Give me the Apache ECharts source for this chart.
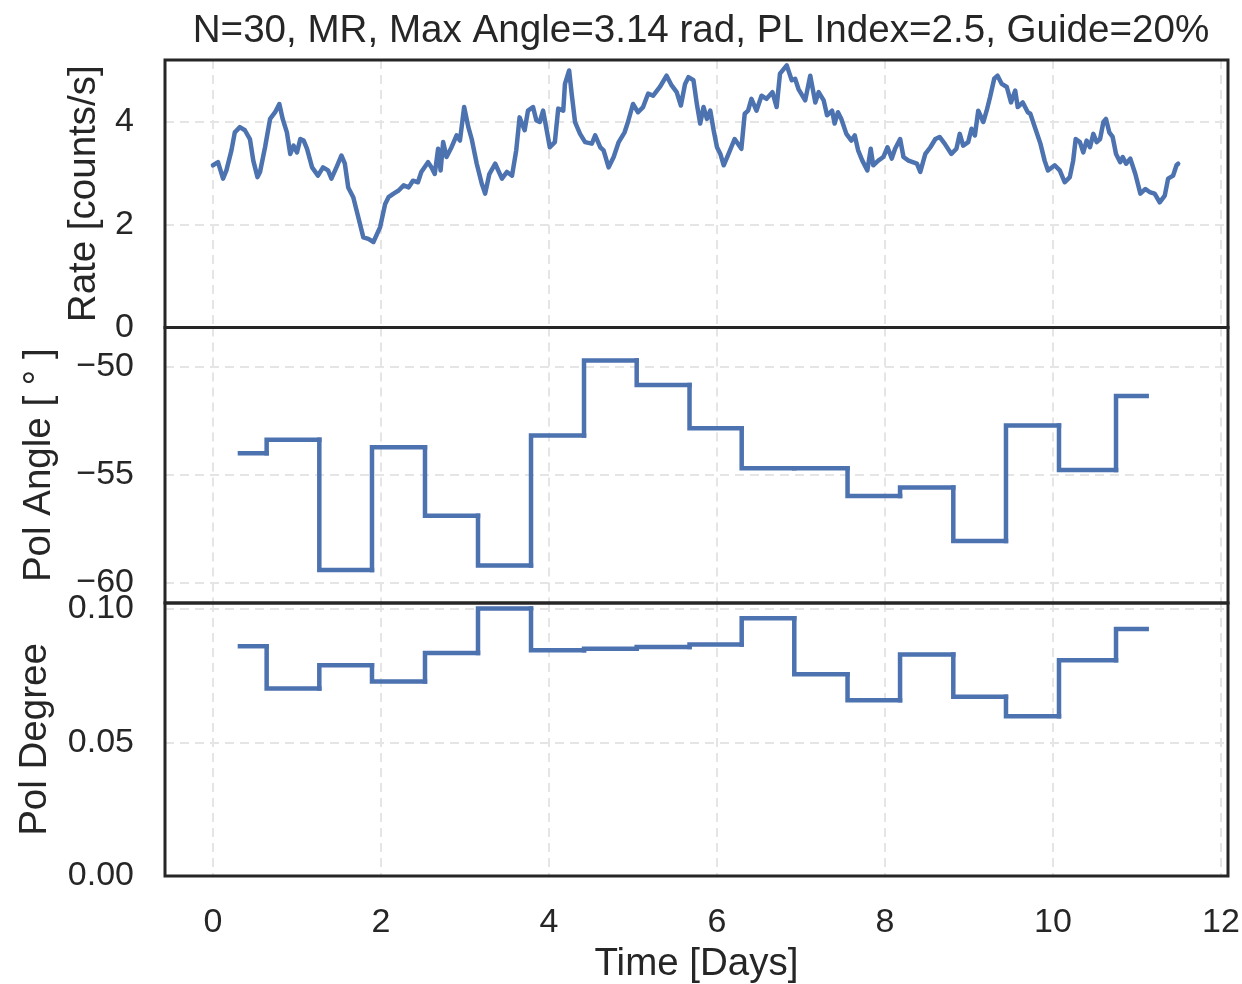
<!DOCTYPE html>
<html>
<head>
<meta charset="utf-8">
<title>Rate / Pol Angle / Pol Degree</title>
<script src="https://cdn.jsdelivr.net/npm/echarts@6/dist/echarts.min.js"></script>
<style>
  html, body { margin: 0; padding: 0; background: #fff; }
  #chart { width: 1242px; height: 984px; }
</style>
</head>
<body>
<div id="chart"></div>
<script>
// light curve
var rateTime = [
  0.00, 0.06, 0.12, 0.16, 0.22, 0.26, 0.32, 0.38, 0.44, 0.48, 0.53, 0.56, 0.62, 0.68, 0.74, 0.79,
  0.83, 0.88, 0.92, 0.96, 1.00, 1.04, 1.08, 1.12, 1.18, 1.25, 1.31, 1.37, 1.41, 1.47, 1.53, 1.57,
  1.61, 1.67, 1.73, 1.79, 1.85, 1.91, 1.99, 2.05, 2.09, 2.15, 2.21, 2.27, 2.33, 2.38, 2.44, 2.48,
  2.56, 2.60, 2.64, 2.68, 2.71, 2.74, 2.78, 2.84, 2.90, 2.94, 2.99, 3.04, 3.08, 3.14, 3.20, 3.24,
  3.29, 3.36, 3.44, 3.50, 3.56, 3.61, 3.65, 3.71, 3.75, 3.81, 3.85, 3.89, 3.93, 4.01, 4.07, 4.11,
  4.17, 4.19, 4.24, 4.27, 4.31, 4.37, 4.43, 4.51, 4.55, 4.61, 4.65, 4.71, 4.77, 4.83, 4.90, 4.94,
  5.00, 5.06, 5.12, 5.18, 5.24, 5.32, 5.40, 5.46, 5.52, 5.57, 5.62, 5.66, 5.72, 5.76, 5.80, 5.84,
  5.88, 5.92, 5.96, 6.00, 6.04, 6.08, 6.13, 6.21, 6.29, 6.33, 6.37, 6.41, 6.47, 6.53, 6.59, 6.66,
  6.71, 6.75, 6.83, 6.89, 6.93, 6.97, 7.05, 7.11, 7.17, 7.21, 7.27, 7.31, 7.37, 7.40, 7.44, 7.48,
  7.54, 7.60, 7.64, 7.68, 7.73, 7.79, 7.83, 7.86, 7.92, 7.98, 8.03, 8.08, 8.12, 8.18, 8.22, 8.28,
  8.33, 8.38, 8.42, 8.48, 8.54, 8.60, 8.65, 8.71, 8.79, 8.85, 8.89, 8.93, 8.99, 9.03, 9.07, 9.11,
  9.17, 9.21, 9.25, 9.30, 9.34, 9.39, 9.45, 9.50, 9.55, 9.58, 9.64, 9.70, 9.73, 9.79, 9.85, 9.90,
  9.94, 10.02, 10.08, 10.14, 10.20, 10.24, 10.27, 10.32, 10.36, 10.40, 10.44, 10.48, 10.52, 10.56, 10.60, 10.63,
  10.67, 10.71, 10.75, 10.80, 10.83, 10.87, 10.92, 10.98, 11.04, 11.10, 11.15, 11.21, 11.27, 11.33, 11.37, 11.43,
  11.47, 11.49
];
var rateValue = [
  3.15, 3.21, 2.89, 3.05, 3.44, 3.79, 3.89, 3.83, 3.66, 3.24, 2.92, 3.02, 3.50, 4.05, 4.18, 4.34,
  4.05, 3.79, 3.37, 3.53, 3.40, 3.66, 3.63, 3.47, 3.11, 2.95, 3.11, 3.05, 2.89, 3.11, 3.34, 3.18,
  2.72, 2.53, 2.14, 1.75, 1.72, 1.66, 1.95, 2.40, 2.53, 2.60, 2.66, 2.76, 2.72, 2.85, 2.82, 3.02,
  3.21, 3.11, 2.98, 3.47, 3.05, 3.60, 3.31, 3.50, 3.73, 3.63, 4.28, 3.89, 3.66, 3.18, 2.79, 2.60,
  2.98, 3.18, 2.89, 3.02, 2.95, 3.44, 4.08, 3.83, 4.21, 4.28, 4.02, 3.99, 4.21, 3.50, 3.60, 4.25,
  4.21, 4.73, 4.99, 4.54, 3.99, 3.76, 3.60, 3.57, 3.73, 3.50, 3.44, 3.11, 3.31, 3.60, 3.79, 3.99,
  4.34, 4.18, 4.28, 4.54, 4.50, 4.67, 4.89, 4.70, 4.57, 4.31, 4.73, 4.86, 4.80, 4.34, 3.96, 4.28,
  4.05, 4.21, 3.83, 3.50, 3.37, 3.15, 3.34, 3.66, 3.47, 4.15, 4.21, 4.44, 4.21, 4.50, 4.44, 4.57,
  4.28, 4.93, 5.09, 4.80, 4.83, 4.63, 4.41, 4.89, 4.37, 4.57, 4.41, 4.12, 4.21, 3.96, 4.18, 4.05,
  3.76, 3.63, 3.73, 3.44, 3.24, 3.05, 3.47, 3.15, 3.24, 3.31, 3.50, 3.28, 3.47, 3.66, 3.31, 3.24,
  3.21, 3.18, 3.02, 3.37, 3.50, 3.66, 3.70, 3.57, 3.37, 3.47, 3.76, 3.53, 3.60, 3.86, 3.73, 4.21,
  3.99, 4.21, 4.47, 4.83, 4.89, 4.73, 4.67, 4.37, 4.60, 4.28, 4.37, 4.18, 4.15, 3.86, 3.57, 3.24,
  3.05, 3.15, 3.05, 2.82, 2.92, 3.24, 3.66, 3.60, 3.40, 3.63, 3.50, 3.76, 3.60, 3.66, 3.99, 4.05,
  3.79, 3.70, 3.37, 3.21, 3.31, 3.18, 3.28, 2.98, 2.60, 2.69, 2.63, 2.60, 2.43, 2.56, 2.89, 2.95,
  3.15, 3.18
];

// binned polarisation, bin edges in days (last edge closes the last bin)
var binEdges = [0.321, 0.639, 1.266, 1.893, 2.524, 3.155, 3.786, 4.417, 5.044, 5.673,
  6.294, 6.920, 7.554, 8.179, 8.813, 9.440, 10.071, 10.750, 11.115];
var polAngle = [-54.01, -53.39, -59.41, -53.73, -56.90, -59.21, -53.19, -49.72, -50.85,
  -52.85, -54.70, -54.70, -55.99, -55.59, -58.07, -52.73, -54.78, -51.36];
var polDegree = [0.0859, 0.0701, 0.0788, 0.0727, 0.0834, 0.1000, 0.0844, 0.0850, 0.0856,
  0.0865, 0.0964, 0.0754, 0.0657, 0.0828, 0.0670, 0.0597, 0.0807, 0.0923];

var xTicks = [0, 2, 4, 6, 8, 10, 12];
var rateTicks = [0, 2, 4];
var angleTicks = [-60, -55, -50];
var degreeTicks = [0.00, 0.05, 0.10];

var FONT = '"Liberation Sans", Arial, Helvetica, sans-serif';
var TEXT = '#262626';
var BLUE = '#4c72b0';
var LINE_W = 4.5;
var GRIDLINE = { color: '#e5e5e5', width: 2, type: [9, 6] };

function isTick(list, v) {
  for (var i = 0; i < list.length; i++) {
    if (Math.abs(list[i] - v) < 1e-6) return true;
  }
  return false;
}

// one item per bin: [start, end, value]
function binData(values) {
  return values.map(function (v, i) { return [binEdges[i], binEdges[i + 1], v]; });
}

// draws the rise from the previous bin and the flat top of this one
function stepItem(values) {
  return function (params, api) {
    var i = params.dataIndex;
    var prev = i > 0 ? values[i - 1] : values[i];
    var a = api.coord([api.value(0), prev]);
    var b = api.coord([api.value(0), api.value(2)]);
    var c = api.coord([api.value(1), api.value(2)]);
    return {
      type: 'polyline',
      shape: { points: [a, b, c] },
      style: { stroke: BLUE, lineWidth: LINE_W, fill: null, lineCap: 'square', lineJoin: 'miter' }
    };
  };
}

var rateData = rateTime.map(function (t, i) { return [t, rateValue[i]]; });

var grids = [
  { left: 165, top: 60, width: 1063, height: 267.5 },
  { left: 165, top: 327.5, width: 1063, height: 275.5 },
  { left: 165, top: 603, width: 1063, height: 273 }
];
grids.forEach(function (g) {
  g.show = true;
  g.borderColor = TEXT;
  g.borderWidth = 3;
  g.backgroundColor = 'transparent';
  g.containLabel = false;
  g.outerBoundsMode = 'none';
  g.z = 10;
});

function xAxis(idx, labels) {
  return {
    type: 'value', gridIndex: idx, min: -0.571, max: 12.083, splitNumber: 6,
    axisLine: { show: false }, axisTick: { show: false },
    axisLabel: {
      show: labels, fontSize: 34, color: TEXT, fontFamily: FONT, margin: 30,
      formatter: function (v) { return isTick(xTicks, v) ? String(Math.round(v)) : ''; }
    },
    splitLine: { show: true, lineStyle: GRIDLINE },
    name: labels ? 'Time [Days]' : '',
    nameLocation: 'middle', nameGap: 69,
    nameTextStyle: { fontSize: 38.5, color: TEXT, fontFamily: FONT }
  };
}

function yAxis(idx, min, max, split, ticks, fmt, name, gap) {
  return {
    type: 'value', gridIndex: idx, min: min, max: max, splitNumber: split,
    axisLine: { show: false }, axisTick: { show: false },
    axisLabel: {
      fontSize: 34, color: TEXT, fontFamily: FONT, margin: 31,
      formatter: function (v) { return isTick(ticks, v) ? fmt(v) : ''; }
    },
    splitLine: { show: true, lineStyle: GRIDLINE },
    name: name, nameLocation: 'middle', nameGap: gap,
    nameTextStyle: { fontSize: 38.5, color: TEXT, fontFamily: FONT }
  };
}

var option = {
  animation: false,
  backgroundColor: '#ffffff',
  title: {
    text: 'N=30, MR, Max Angle=3.14 rad, PL Index=2.5, Guide=20%',
    left: 696, top: 7, textAlign: 'center',
    textStyle: { fontSize: 38.6, fontWeight: 'normal', color: TEXT, fontFamily: FONT }
  },
  grid: grids,
  xAxis: [xAxis(0, false), xAxis(1, false), xAxis(2, true)],
  yAxis: [
    yAxis(0, 0, 5.194, 3, rateTicks, function (v) { return String(Math.round(v)); }, 'Rate [counts/s]', 61),
    yAxis(1, -60.94, -48.19, 3, angleTicks, function (v) { return String(Math.round(v)).replace('-', '\u2212'); }, 'Pol Angle [ \u00b0 ]', 106),
    yAxis(2, 0, 0.10206, 2, degreeTicks, function (v) { return v.toFixed(2); }, 'Pol Degree', 110)
  ],
  series: [
    {
      type: 'line', xAxisIndex: 0, yAxisIndex: 0, data: rateData,
      showSymbol: false, symbol: 'none',
      lineStyle: { color: BLUE, width: LINE_W, join: 'round', cap: 'round' }
    },
    {
      type: 'custom', xAxisIndex: 1, yAxisIndex: 1, data: binData(polAngle),
      encode: { x: [0, 1], y: 2 }, renderItem: stepItem(polAngle)
    },
    {
      type: 'custom', xAxisIndex: 2, yAxisIndex: 2, data: binData(polDegree),
      encode: { x: [0, 1], y: 2 }, renderItem: stepItem(polDegree)
    }
  ]
};

var myChart = echarts.init(document.getElementById('chart'));
myChart.setOption(option);
</script>
</body>
</html>
